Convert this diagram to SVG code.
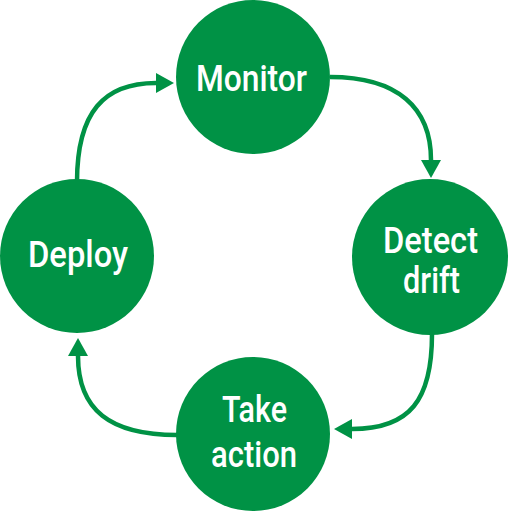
<svg xmlns="http://www.w3.org/2000/svg" width="508" height="512" viewBox="0 0 508 512">
<style>
.node{fill:#009245}
.lbl{fill:#fff;font-family:Roboto,"Liberation Sans",sans-serif;font-weight:500;font-size:37px;text-anchor:middle}
.conn{fill:none;stroke:#009245;stroke-width:4.5}
</style>
<defs>
<marker id="ah" viewBox="0 0 18 20" refX="0" refY="10" markerWidth="18" markerHeight="20" markerUnits="userSpaceOnUse" orient="auto">
<path d="M0,0 L18,10 L0,20 Z" fill="#009245"/>
</marker>
</defs>
<rect width="508" height="512" fill="#fff"/>
<g id="connectors">
<path class="conn" d="M77,182 C77,112 104,83 156,83" marker-end="url(#ah)"/>
<path class="conn" d="M330,77 C398,77 431,108 431,160" marker-end="url(#ah)"/>
<path class="conn" d="M432,334 C432,400 410,429 352,429" marker-end="url(#ah)"/>
<path class="conn" d="M177,435 C110,435 78,410 78,356" marker-end="url(#ah)"/>
</g>
<g id="monitor">
<circle class="node" cx="253" cy="77" r="77"/>
<text class="lbl" x="251.5" y="91" textLength="111" lengthAdjust="spacingAndGlyphs">Monitor</text>
</g>
<g id="detect-drift">
<circle class="node" cx="430" cy="257" r="78"/>
<text class="lbl" x="430.5" y="253" textLength="95" lengthAdjust="spacingAndGlyphs">Detect</text>
<text class="lbl" x="431.5" y="293" textLength="57" lengthAdjust="spacingAndGlyphs">drift</text>
</g>
<g id="take-action">
<circle class="node" cx="253" cy="434" r="77"/>
<text class="lbl" x="254.5" y="422" textLength="65" lengthAdjust="spacingAndGlyphs">Take</text>
<text class="lbl" x="254" y="467" textLength="86" lengthAdjust="spacingAndGlyphs">action</text>
</g>
<g id="deploy">
<circle class="node" cx="77" cy="256" r="77"/>
<text class="lbl" x="78" y="267" textLength="100" lengthAdjust="spacingAndGlyphs">Deploy</text>
</g>
</svg>
